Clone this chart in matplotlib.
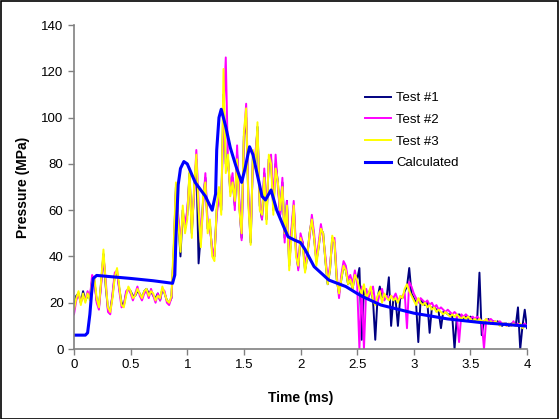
import matplotlib
matplotlib.use("Agg")
import matplotlib.pyplot as plt
import numpy as np
from matplotlib.patches import Rectangle

plt.rcParams['font.family'] = ['Liberation Sans', 'DejaVu Sans']

# sampling step of the measured traces (ms)
dt = 0.02

# Test #1 pressure (MPa), sampled every 0.02 ms from 0 to 4 ms
test1 = [
    18, 23, 24, 20, 25, 21, 23, 22, 30, 29,
    21, 18, 29, 41, 27, 17, 17, 23, 32, 33,
    26, 20, 19, 24, 26, 25, 23, 23, 25, 24,
    22, 25, 26, 24, 25, 23, 22, 24, 21, 26,
    24, 21, 20, 22,
    42, 70, 56, 40, 60, 52, 58, 76, 50, 68,
    82, 37, 50, 64, 74, 52, 54, 42, 40, 60,
    68, 60, 110, 80, 82, 68, 74, 62, 84, 62,
    48, 92, 100, 64, 46, 84, 80, 96, 62, 56,
    76, 56, 82, 82, 60, 80, 72, 58, 72, 48,
    64, 36, 50, 62, 42, 35, 48, 46, 34, 40,
    50, 56, 48, 38, 44, 52, 50, 38, 28, 34,
    48, 46, 30, 24, 30, 36, 34, 28, 30, 26,
    32, 30,
    35, 4, 26, 23, 24, 26, 21, 4, 22, 27,
    21, 23, 22, 31, 10, 22, 21, 10, 22, 22,
    25, 27, 35, 24, 22, 20, 3, 21, 20, 19,
    20, 7, 18, 18, 17, 16, 9, 16, 16, 15,
    15, 14, 0, 14, 15, 14, 13, 14, 13, 14,
    13, 12, 13, 33, 6, 12, 12, 13, 11, 12,
    11, 12, 11, 10, 11, 11, 10, 11, 11, 10,
    18, 0, 10, 17, 9,
]

# Test #2 pressure (MPa)
test2 = [
    15, 21, 24, 20, 23, 21, 25, 22, 32, 30,
    20, 17, 28, 40, 30, 16, 15, 24, 33, 34,
    25, 18, 19, 25, 26, 24, 21, 24, 27, 23,
    21, 24, 25, 22, 26, 23, 20, 24, 21, 26,
    25, 20, 19, 22,
    40, 68, 58, 46, 58, 54, 60, 74, 52, 66,
    86, 64, 46, 62, 76, 54, 52, 44, 40, 58,
    66, 62, 100, 126, 80, 70, 76, 60, 88, 64,
    47, 90, 106, 66, 48, 82, 84, 94, 64, 56,
    78, 58, 82, 84, 62, 84, 70, 58, 74, 46,
    64, 38, 52, 64, 44, 34, 50, 46, 36, 42,
    48, 58, 50, 38, 46, 54, 48, 40, 30, 36,
    46, 48, 32, 22, 32, 38, 36, 30, 32, 28,
    34, 28,
    0, 27, 0, 26, 22, 25, 27, 20, 20, 24,
    26, 21, 23, 22, 23, 22, 24, 21, 22, 23,
    24, 9, 29, 27, 24, 22, 20, 22, 21, 20,
    21, 19, 20, 18, 19, 17, 18, 17, 16, 17,
    16, 15, 16, 15, 3, 15, 14, 15, 14, 13,
    14, 13, 14, 13, 12, 0, 13, 12, 13, 12,
    12, 11, 12, 11, 11, 10, 11, 10, 12, 10,
    11, 10, 10, 11, 10,
]

# Test #3 pressure (MPa)
test3 = [
    17, 22, 25, 19, 24, 20, 24, 21, 29, 31,
    22, 18, 30, 43, 28, 18, 16, 22, 31, 35,
    27, 19, 18, 23, 27, 25, 22, 23, 26, 24,
    22, 25, 26, 23, 25, 24, 21, 23, 22, 27,
    24, 21, 20, 23,
    45, 72, 55, 42, 62, 50, 56, 78, 48, 70,
    84, 60, 44, 66, 72, 50, 56, 40, 38, 62,
    70, 58, 121, 76, 84, 66, 72, 64, 82, 60,
    50, 94, 104, 62, 45, 86, 78, 98, 60, 58,
    74, 54, 84, 80, 58, 78, 72, 60, 70, 50,
    62, 34, 48, 62, 40, 36, 48, 44, 33, 40,
    50, 56, 48, 36, 44, 52, 50, 38, 28, 34,
    49, 46, 30, 24, 30, 36, 34, 28, 30, 26,
    32, 30,
    26, 24, 28, 22, 24, 27, 21, 19, 23, 25,
    20, 24, 22, 21, 23, 21, 22, 20, 23, 22,
    26, 28, 25, 23, 21, 19, 22, 20, 19, 20,
    18, 19, 17, 18, 16, 17, 16, 15, 16, 15,
    14, 15, 14, 15, 14, 13, 14, 13, 14, 13,
    12, 13, 12, 13, 12, 12, 13, 11, 12, 11,
    12, 11, 10, 11, 11, 10, 11, 10, 11, 10,
    10, 11, 9, 10, 10,
]

# Calculated pressure history
calc_t = [0, 0.10, 0.12, 0.14, 0.155, 0.17, 0.20, 0.50, 0.70, 0.87,
          0.89, 0.90, 0.92, 0.94, 0.97, 1.00, 1.07, 1.16, 1.22, 1.25,
          1.26, 1.28, 1.30, 1.34, 1.38, 1.43, 1.48, 1.51, 1.55, 1.58,
          1.62, 1.66, 1.69, 1.74, 1.79, 1.85, 1.89, 1.95, 2.00, 2.04,
          2.12, 2.25, 2.40, 2.50, 2.55, 2.71, 3.00, 3.30, 3.60, 4.00]
calc_p = [6, 6, 7, 15, 24, 30.5, 31.8, 30.5, 29.5, 28.4,
          32, 48, 71, 78, 81, 80, 72, 66, 60, 67,
          86, 100, 103.6, 96, 87, 79, 72, 78, 87.4, 84,
          75, 66, 64.4, 68.7, 60, 53, 48.5, 47, 46, 43,
          35.6, 29.8, 27, 24, 22.6, 19, 15.5, 13, 11.4, 9.9]

fig = plt.figure(figsize=(5.59, 4.19), dpi=100)
ax = fig.add_axes([0.1324, 0.167, 0.8104, 0.7733])

for vals, col, lab in [(test1, '#000080', 'Test #1'),
                       (test2, '#FF00FF', 'Test #2'),
                       (test3, '#FFFF00', 'Test #3')]:
    t = np.arange(len(vals)) * dt
    ax.plot(t, vals, color=col, lw=1.4, label=lab)
ax.plot(calc_t, calc_p, color='#0000FF', lw=2.2, label='Calculated')

ax.set_xlim(0, 4)
ax.set_ylim(0, 140)
ax.set_xticks(np.arange(0, 4.01, 0.5))
ax.set_xticklabels(['0', '0.5', '1', '1.5', '2', '2.5', '3', '3.5', '4'])
ax.set_yticks(np.arange(0, 141, 20))

for s in ['top', 'right']:
    ax.spines[s].set_visible(False)
for s in ['left', 'bottom']:
    ax.spines[s].set_color('#808080')
    ax.spines[s].set_linewidth(1.2)
ax.tick_params(axis='both', colors='#808080', labelcolor='black',
               labelsize=9.5, length=4, width=1.0, direction='out')

ax.set_xlabel('Time (ms)', fontsize=10, fontweight='bold', labelpad=14)
ax.set_ylabel('Pressure (MPa)', fontsize=10, fontweight='bold', labelpad=8)

ax.legend(loc='upper left', bbox_to_anchor=(0.616, 0.83), frameon=False,
          fontsize=9.5, handlelength=2.0, labelspacing=0.72, handletextpad=0.35)

# black border round the whole chart
fig.patches.append(Rectangle((0.001, 0.001), 0.997, 0.997, transform=fig.transFigure,
                             fill=False, edgecolor='black', lw=1.2))

fig.savefig('out.png', dpi=100)
